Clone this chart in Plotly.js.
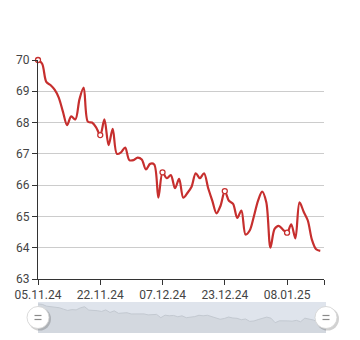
<!DOCTYPE html>
<html>
<head>
<meta charset="utf-8">
<script src="https://cdn.plot.ly/plotly-3.0.1.min.js"></script>
<style>
html,body{margin:0;padding:0;background:#fff;}
#chart{width:360px;height:340px;}
</style>
</head>
<body>
<div id="chart"></div>
<script>
// Data (index-based category axis, labels shown every 15 points)
const values = [
  70.0, 69.88, 69.3, 69.2, 69.05, 68.8, 68.35, 67.92, 68.2, 68.1,
  68.75, 69.12, 68.03, 68.0, 67.85, 67.6, 68.1, 67.28, 67.8, 67.0,
  67.05, 67.2, 66.8, 66.8, 66.88, 66.82, 66.5, 66.68, 66.66, 65.6,
  66.41, 66.22, 66.32, 65.9, 66.2, 65.6, 65.75, 65.95, 66.38, 66.22,
  66.38, 65.9, 65.5, 65.1, 65.35, 65.81, 65.5, 65.4, 64.95, 65.19,
  64.42, 64.55, 65.0, 65.5, 65.79, 65.45, 64.0, 64.6, 64.7, 64.58,
  64.48, 64.75, 64.3, 65.45, 65.15, 64.87, 64.25, 63.95, 63.9
];
const tickLabels = ['05.11.24', '22.11.24', '07.12.24', '23.12.24', '08.01.25', ''];
const tickIndex = [0, 15, 30, 45, 60, 68.9];
const markerIndex = [0, 15, 30, 45, 60];

const idx = values.map((v, i) => i);
const red = '#c62f2e';

const traces = [
  {
    x: idx, y: values, type: 'scatter', mode: 'lines',
    line: {color: red, width: 2.2, shape: 'spline', smoothing: 0.9},
    hoverinfo: 'skip', xaxis: 'x', yaxis: 'y', cliponaxis: false
  },
  {
    x: markerIndex, y: markerIndex.map(i => values[i]), type: 'scatter', mode: 'markers',
    marker: {size: 5, color: '#ffffff', line: {color: red, width: 1.3}},
    hoverinfo: 'skip', xaxis: 'x', yaxis: 'y', cliponaxis: false
  },
  {
    x: idx, y: values, type: 'scatter', mode: 'lines', fill: 'tozeroy',
    line: {color: '#c3c9d1', width: 1},
    fillcolor: '#d3d8df',
    hoverinfo: 'skip', xaxis: 'x2', yaxis: 'y2'
  }
];

function handle(xpos) {
  return [
    {type: 'circle', xref: 'x2 domain', yref: 'y2 domain', xsizemode: 'pixel', ysizemode: 'pixel',
     xanchor: xpos, yanchor: 0.5, x0: -10, x1: 13, y0: -13, y1: 10,
     fillcolor: 'rgba(0,0,0,0.18)', line: {width: 0}, layer: 'above'},
    {type: 'circle', xref: 'x2 domain', yref: 'y2 domain', xsizemode: 'pixel', ysizemode: 'pixel',
     xanchor: xpos, yanchor: 0.5, x0: -11, x1: 11, y0: -11, y1: 11,
     fillcolor: '#ffffff', line: {color: '#d0d0d0', width: 0.8}, layer: 'above'},
    {type: 'line', xref: 'x2 domain', yref: 'y2 domain', xsizemode: 'pixel', ysizemode: 'pixel',
     xanchor: xpos, yanchor: 0.5, x0: -3.5, x1: 3.5, y0: 2, y1: 2,
     line: {color: '#8a8a8a', width: 1.2}, layer: 'above'},
    {type: 'line', xref: 'x2 domain', yref: 'y2 domain', xsizemode: 'pixel', ysizemode: 'pixel',
     xanchor: xpos, yanchor: 0.5, x0: -3.5, x1: 3.5, y0: -2, y1: -2,
     line: {color: '#8a8a8a', width: 1.2}, layer: 'above'}
  ];
}

const layout = {
  width: 360, height: 340,
  margin: {l: 38, r: 34, t: 60, b: 7},
  paper_bgcolor: '#ffffff', plot_bgcolor: '#ffffff',
  showlegend: false,
  font: {family: 'Roboto, "Noto Sans", sans-serif', size: 12, color: '#444'},
  xaxis: {
    domain: [0, 286 / 288], range: [0, 68.9],
    tickmode: 'array', tickvals: tickIndex, ticktext: tickLabels,
    ticks: 'outside', ticklen: 5, tickcolor: '#333', tickwidth: 1,
    showline: true, linecolor: '#333', linewidth: 1,
    showgrid: false, zeroline: false, fixedrange: true,
    tickfont: {size: 12, color: '#444'}
  },
  yaxis: {
    domain: [0.1978, 1], range: [63, 70], dtick: 1, tick0: 63,
    ticks: 'outside', ticklen: 5, tickcolor: '#333', tickwidth: 1,
    showline: true, linecolor: '#333', linewidth: 1,
    showgrid: true, gridcolor: '#cccccc', gridwidth: 1,
    zeroline: false, fixedrange: true,
    tickfont: {size: 12, color: '#444'}
  },
  xaxis2: {
    domain: [0, 1], range: [0, 68], anchor: 'y2',
    showticklabels: false, showgrid: false, zeroline: false, showline: false, ticks: '', fixedrange: true
  },
  yaxis2: {
    domain: [0, 0.1136], range: [60.69, 70.64], anchor: 'x2',
    showticklabels: false, showgrid: false, zeroline: false, showline: false, ticks: '', fixedrange: true
  },
  shapes: [
    {type: 'rect', xref: 'x2 domain', yref: 'y2 domain', x0: 0, x1: 1, y0: 0, y1: 1,
     fillcolor: '#dfe4ec', line: {width: 0}, layer: 'below'}
  ].concat(handle(0), handle(1))
};

Plotly.newPlot('chart', traces, layout, {displayModeBar: false, staticPlot: true});
</script>
</body>
</html>
